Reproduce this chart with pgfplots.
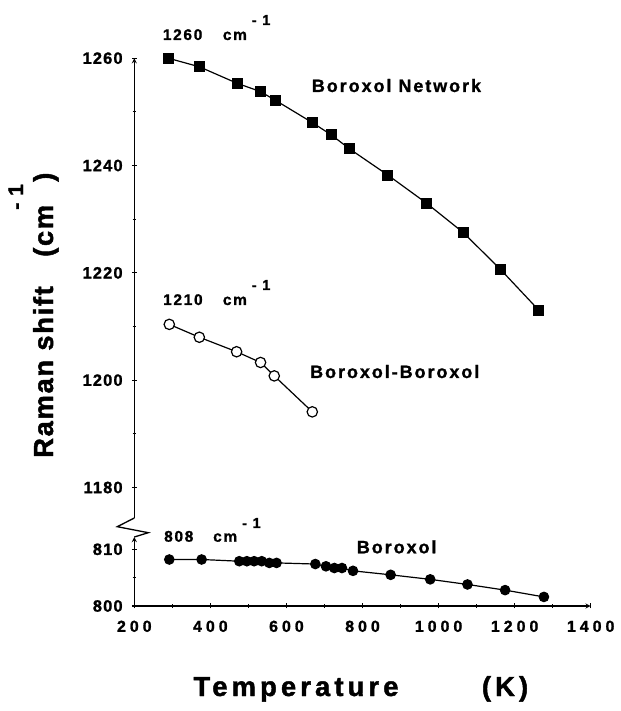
\documentclass[border=0pt]{standalone}
\usepackage{pgfplots}
\pgfplotsset{compat=1.18}
\usepackage{pgfplotstable}
\usepackage{fontspec}
\setmainfont{Liberation Sans}
\newfontfamily\ytf[LetterSpace=7, BoldFeatures={FakeBold=1.2}]{Liberation Sans}
\newfontfamily\xtf[LetterSpace=25, BoldFeatures={FakeBold=1.2}]{Liberation Sans}
\newfontfamily\anf[LetterSpace=11, BoldFeatures={FakeBold=1.2}]{Liberation Sans}
\newfontfamily\lbf[LetterSpace=15, BoldFeatures={FakeBold=1.6}]{Liberation Sans}
\newfontfamily\ylf[LetterSpace=6, BoldFeatures={FakeBold=1.6}]{Liberation Sans}

\pgfplotstableread{
T v
289 1260.0
371 1258.4
471 1255.3
531 1253.8
570 1252.2
668 1248.0
718 1245.7
766 1243.1
867 1238.2
968 1233.0
1065 1227.5
1162 1220.7
1264 1213.0
}\network

\pgfplotstableread{
T v
292 1210.4
371 1208.0
469 1205.3
532 1203.3
568 1200.8
668 1194.1
}\boroxolpair

\pgfplotstableread{
T v
292 808.2
377 808.2
476 807.9
496 807.9
515 807.9
535 807.9
555 807.6
574 807.6
676 807.4
704 807.0
726 806.7
746 806.7
775 806.2
874 805.5
978 804.7
1076 803.8
1175 802.8
1277 801.6
}\boroxol

\pgfplotsset{
  common/.style={
    scale only axis, width=456.4bp,
    xmin=200, xmax=1400, clip=false,
    tick align=outside,
    major tick length=5bp, minor tick length=3.5bp,
    axis line style={line width=1.3bp,-},
    every tick/.style={line width=1.1bp, black},
    scaled ticks=false,
    yticklabel style={font=\ytf\bfseries\fontsize{16.5}{18}\selectfont, inner sep=0pt, anchor=east, xshift=-9bp},
    xticklabel style={font=\xtf\bfseries\fontsize{16}{18}\selectfont, inner sep=0pt, anchor=north, yshift=-12bp},
  },
}

\begin{document}
\begin{tikzpicture}
\path[use as bounding box] (0bp,0bp) rectangle (621bp,711bp);

% upper axis
\begin{axis}[common,
  at={(134.3bp,193bp)}, anchor=south west, height=459.8bp,
  ymin=1174.32, ymax=1260,
  axis x line=none, axis y line=left,
  ytick={1180,1200,1220,1240,1260},
  yticklabels={1180,1200,1220,1240,1260},
  minor ytick={1190,1210,1230,1250},
]
\addplot[black, line width=1.2bp, mark=square*, mark size=4.9bp] table[x=T,y=v] {\network};
\addplot[black, line width=1.2bp, mark=*, mark size=5.2bp, mark options={fill=white, line width=1.2bp}] table[x=T,y=v] {\boroxolpair};
\end{axis}

% lower axis
\begin{axis}[common,
  at={(134.3bp,105bp)}, anchor=south west, height=69bp,
  ymin=800, ymax=812.17,
  axis x line=bottom, axis y line=left,
  ytick={800,810}, yticklabels={800,810},
  minor ytick={805},
  xtick={200,400,600,800,1000,1200,1400},
  xticklabels={200,400,600,800,1000,1200,1400},
  minor xtick={300,500,700,900,1100,1300},
]
\addplot[black, line width=1.2bp, mark=*, mark size=4.7bp] table[x=T,y=v] {\boroxol};
\end{axis}

% axis break
\draw[line width=1.3bp, line join=miter] (134.3bp,193bp) -- (117.3bp,184.3bp) -- (148.3bp,178.3bp) -- (134.3bp,174bp);

% annotations
\begin{scope}[every node/.style={inner sep=0pt, anchor=base west}]
\node[font=\anf\bfseries\fontsize{15.5}{17}\selectfont] at (162.7bp,671bp) {1260};
\node[font=\anf\bfseries\fontsize{15.5}{17}\selectfont] at (222.7bp,671bp) {cm};
\node[font=\anf\bfseries\fontsize{14.5}{16}\selectfont] at (251.7bp,686bp) {- 1};

\node[font=\anf\bfseries\fontsize{15.5}{17}\selectfont] at (163bp,406bp) {1210};
\node[font=\anf\bfseries\fontsize{15.5}{17}\selectfont] at (222.7bp,406bp) {cm};
\node[font=\anf\bfseries\fontsize{14.5}{16}\selectfont] at (251.7bp,421bp) {- 1};

\node[font=\anf\bfseries\fontsize{15.5}{17}\selectfont] at (164bp,169.3bp) {808};
\node[font=\anf\bfseries\fontsize{15.5}{17}\selectfont] at (213bp,169.3bp) {cm};
\node[font=\anf\bfseries\fontsize{14.5}{16}\selectfont] at (242bp,183bp) {- 1};

\node[font=\anf\bfseries\fontsize{18}{20}\selectfont] at (311.7bp,619bp) {Boroxol Network};
\node[font=\anf\bfseries\fontsize{18}{20}\selectfont] at (310bp,333bp) {Boroxol-Boroxol};
\node[font=\anf\bfseries\fontsize{18}{20}\selectfont] at (356.7bp,157.7bp) {Boroxol};

% x label
\node[font=\lbf\bfseries\fontsize{27.5}{30}\selectfont] at (193.3bp,15bp) {Temperature};
\node[font=\lbf\bfseries\fontsize{27.5}{30}\selectfont] at (481.7bp,15bp) {(K)};

% y label
\node[font=\ylf\bfseries\fontsize{27.5}{30}\selectfont, rotate=90] at (53bp,253bp) {Raman shift};
\node[font=\ylf\bfseries\fontsize{27.5}{30}\selectfont, rotate=90] at (53bp,454bp) {(cm};
\node[font=\ylf\bfseries\fontsize{21}{24}\selectfont, rotate=90] at (23bp,501bp) {- 1};
\node[font=\ylf\bfseries\fontsize{27.5}{30}\selectfont, rotate=90] at (53bp,529bp) {)};
\end{scope}
\end{tikzpicture}
\end{document}
